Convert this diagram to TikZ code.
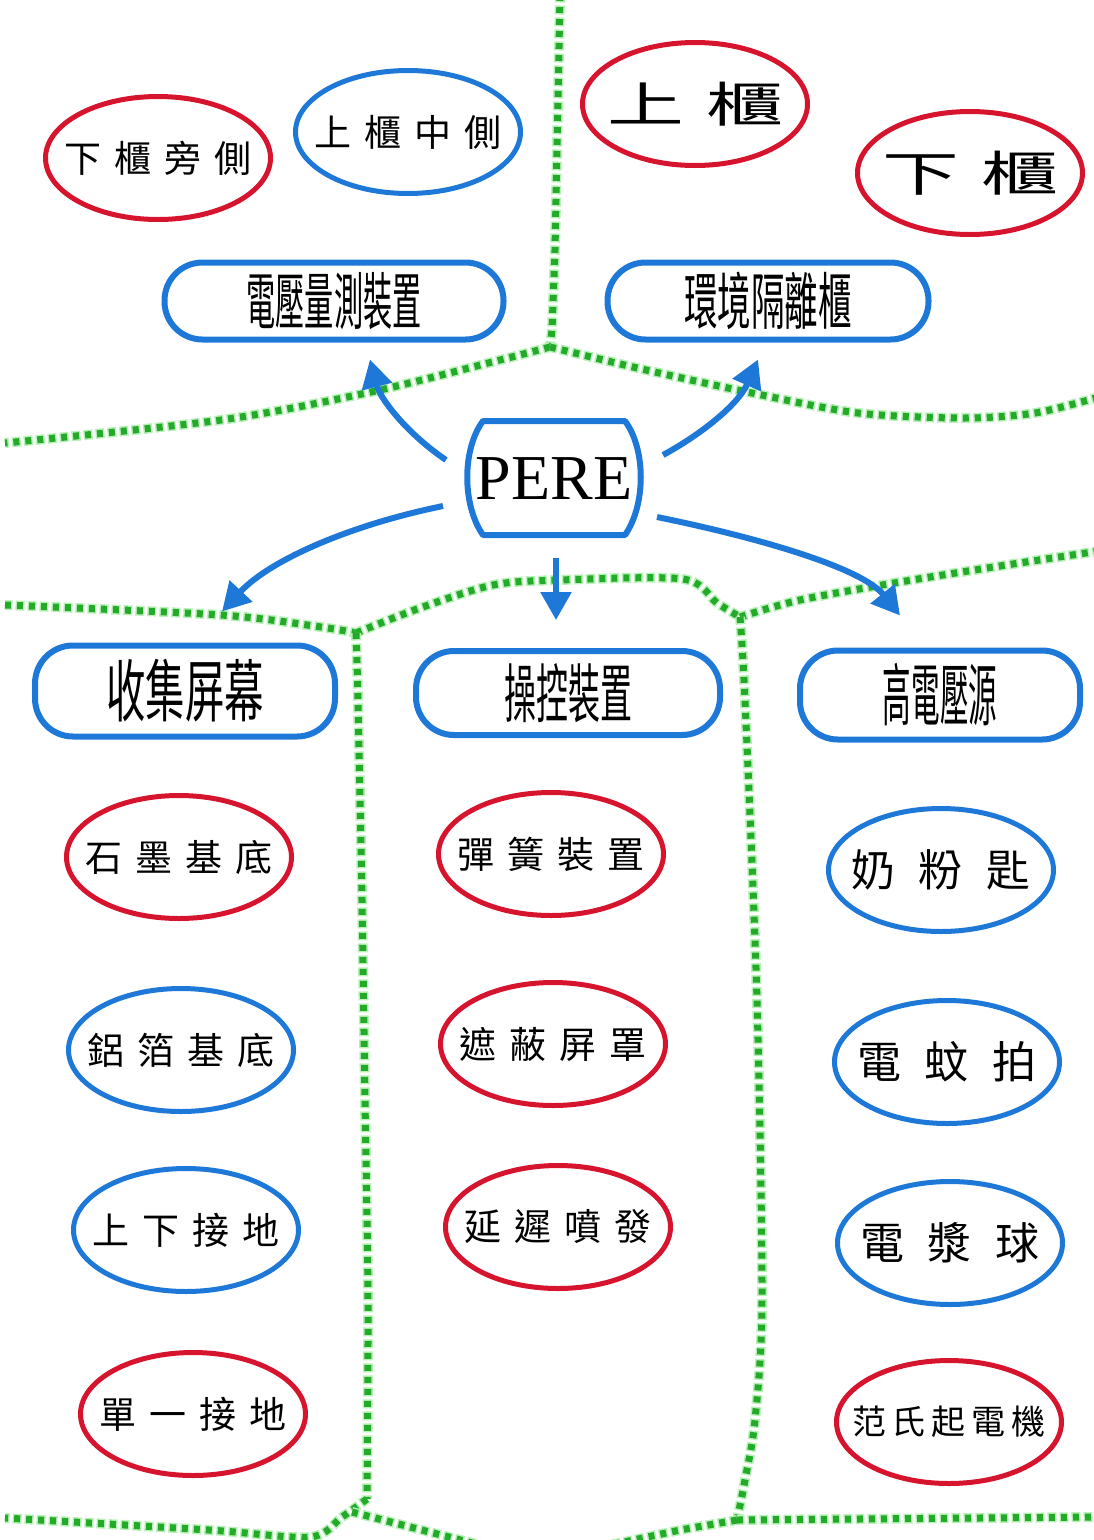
\documentclass[tikz,border=0pt]{standalone}
\usepackage{graphicx}
\usepackage{fontspec}
\setmainfont{Liberation Serif}
\newfontfamily\cjk{Noto Sans CJK TC}
\usetikzlibrary{shapes.geometric,arrows.meta,calc}
\definecolor{bblue}{RGB}{30,120,215}
\definecolor{rred}{RGB}{215,20,45}
\definecolor{ggreen}{RGB}{35,170,40}
\definecolor{lgreen}{RGB}{185,240,185}
\newcommand\ovalnode[4]{%
  \node[oval,draw=#2] (#1) at (#3) {};
  \node[otext] (#1-t) at (#1.center) {#4};}
\newcommand\gp{\hspace{13pt}}
\begin{document}
\begin{tikzpicture}[x=1pt,y=-1pt,
  oval/.style={ellipse, line width=5pt, minimum width=225pt, minimum height=123pt, inner sep=0pt},
  otext/.style={inner sep=0pt, font=\cjk\fontsize{37}{37}\selectfont},
  pill/.style={rectangle, rounded corners=38pt, draw=bblue, line width=6pt, inner sep=0pt, font=\cjk},
  arr/.style={draw=bblue, line width=6pt, -{Triangle[length=28pt,width=30pt]}},
  dotl/.style={draw=ggreen, line width=7pt, dash pattern=on 6pt off 6pt,
    preaction={draw=lgreen, line width=10pt, dash pattern=on 9pt off 3pt, dash phase=1.5pt}},
]
\useasboundingbox (0,0) rectangle (1094,1540);
\clip (0,0) rectangle (1094,1540);
% ---- green dotted dividers ----
\coordinate (J1) at (550,347);
\coordinate (J2) at (356,633);
\coordinate (J3) at (740,617);
\coordinate (J4) at (367,1499);
\coordinate (J5) at (737,1520);
\draw[dotl] (560,-5) -- (558,100) -- (555,250) -- (552,330) -- (J1);
\draw[dotl] plot[smooth] coordinates {(J1) (500,360) (371,392) (221,420) (5,443)};
\draw[dotl] plot[smooth] coordinates {(J1) (646,370) (752,393) (858,413) (964,418) (1035,413) (1099,397)};
\draw[dotl] plot[smooth] coordinates {(5,605) (221,615) (321,627) (J2)};
\draw[dotl] plot[smooth] coordinates {(J2) (420,608) (493,585) (560,580) (683,579) (717,603) (J3)};
\draw[dotl] plot[smooth] coordinates {(J3) (800,600) (900,582) (1000,566) (1099,551)};
\draw[dotl] plot[smooth] coordinates {(J2) (358,700) (362,900) (365,1100) (368,1300) (J4)};
\draw[dotl] plot[smooth] coordinates {(J3) (745,700) (757,1000) (762,1300) (755,1420) (745,1480) (J5)};
\draw[dotl] plot[smooth] coordinates {(J4) (342,1517) (310,1537) (209,1530) (5,1518)};
\draw[dotl] (352,1512) -- (480,1545);
\draw[dotl] (J5) -- (680,1530) -- (610,1545);
\draw[dotl] (J5) -- (1099,1517);
% ---- top ellipses ----
\ovalnode{e1}{rred}{158,158}{下\gp 櫃\gp 旁\gp 側}
\ovalnode{e2}{bblue}{408,132}{上\gp 櫃\gp 中\gp 側}
\node[oval,draw=rred] (e3) at (695,104) {};
\node[inner sep=0pt, font=\cjk\fontsize{48}{48}\selectfont] (e3-t) at (e3.center) {\scalebox{1.6}[1]{上}\hspace{22pt}\scalebox{1.6}[1]{櫃}};
\node[oval,draw=rred] (e4) at (970,173) {};
\node[inner sep=0pt, font=\cjk\fontsize{48}{48}\selectfont] (e4-t) at (e4.center) {\scalebox{1.6}[1]{下}\hspace{22pt}\scalebox{1.6}[1]{櫃}};
% ---- pills ----
\node[pill, minimum width=339pt, minimum height=77pt] (v1) at (334,301) {\scalebox{0.47}[1]{\fontsize{62}{62}\selectfont 電壓量測裝置}};
\node[pill, minimum width=321pt, minimum height=77pt] (v2) at (768,301) {\scalebox{0.54}[1]{\fontsize{62}{62}\selectfont 環境隔離櫃}};
\node[pill, minimum width=300pt, minimum height=91pt] (b1) at (185,691) {\scalebox{0.58}[1]{\fontsize{68}{68}\selectfont 收集屏幕}};
\node[pill, minimum width=304pt, minimum height=84pt] (b2) at (568,693) {\scalebox{0.5}[1]{\fontsize{64}{64}\selectfont 操控裝置}};
\node[pill, minimum width=280pt, minimum height=89pt] (b3) at (940,695) {\scalebox{0.42}[1]{\fontsize{68}{68}\selectfont 高電壓源}};
% ---- PERE ----
\node[inner sep=0pt, font=\fontsize{64}{64}\selectfont] (pere) at (554,479) {PERE};
\begin{scope}[shift={(pere.center)}]
\draw[bblue, line width=6pt, line join=round]
  (-71,-58) -- (71,-58) .. controls (92,-30) and (92,26) .. (71,56)
  -- (-71,56) .. controls (-92,26) and (-92,-30) .. cycle;
\end{scope}
% ---- arrows ----
\draw[arr] ($(pere.center)+(-108,-19)$) .. controls (405,432) and (380,398) .. ($(v1.south)+(36,17)$);
\draw[arr] ($(pere.center)+(109,-24)$) .. controls (700,435) and (738,405) .. ($(v2.south)+(-10,17)$);
\draw[arr] ($(pere.center)+(-111,27)$) .. controls (350,525) and (270,560) .. ($(b1.north)+(37,-31)$);
\draw[arr] ($(pere.center)+(2,79)$) -- ($(b2.north)+(-12,-28)$);
\draw[arr] ($(pere.center)+(103,38)$) .. controls (760,538) and (862,568) .. ($(b3.north)+(-40,-32)$);
% ---- left column ----
\ovalnode{l1}{rred}{179,857}{石\gp 墨\gp 基\gp 底}
\ovalnode{l2}{bblue}{181,1050}{鋁\gp 箔\gp 基\gp 底}
\ovalnode{l3}{bblue}{186,1230}{上\gp 下\gp 接\gp 地}
\ovalnode{l4}{rred}{193,1414}{單\gp 一\gp 接\gp 地}
% ---- middle column ----
\ovalnode{m1}{rred}{551,854}{彈\gp 簧\gp 裝\gp 置}
\ovalnode{m2}{rred}{553,1044}{遮\gp 蔽\gp 屏\gp 罩}
\ovalnode{m3}{rred}{558,1227}{延\gp 遲\gp 噴\gp 發}
% ---- right column ----
\node[oval,draw=bblue] (r1) at (941,870) {};
\node[otext, font=\cjk\fontsize{44}{44}\selectfont] (r1-t) at (r1.center) {奶\hspace{24pt}粉\hspace{24pt}匙};
\node[oval,draw=bblue] (r2) at (947,1062) {};
\node[otext, font=\cjk\fontsize{44}{44}\selectfont] (r2-t) at (r2.center) {電\hspace{24pt}蚊\hspace{24pt}拍};
\node[oval,draw=bblue] (r3) at (950,1243) {};
\node[otext, font=\cjk\fontsize{44}{44}\selectfont] (r3-t) at (r3.center) {電\hspace{24pt}漿\hspace{24pt}球};
\node[oval,draw=rred] (r4) at (949,1422) {};
\node[otext, font=\cjk\fontsize{34}{34}\selectfont] (r4-t) at (r4.center) {范\hspace{6pt}氏\hspace{6pt}起\hspace{6pt}電\hspace{6pt}機};
\end{tikzpicture}
\end{document}
